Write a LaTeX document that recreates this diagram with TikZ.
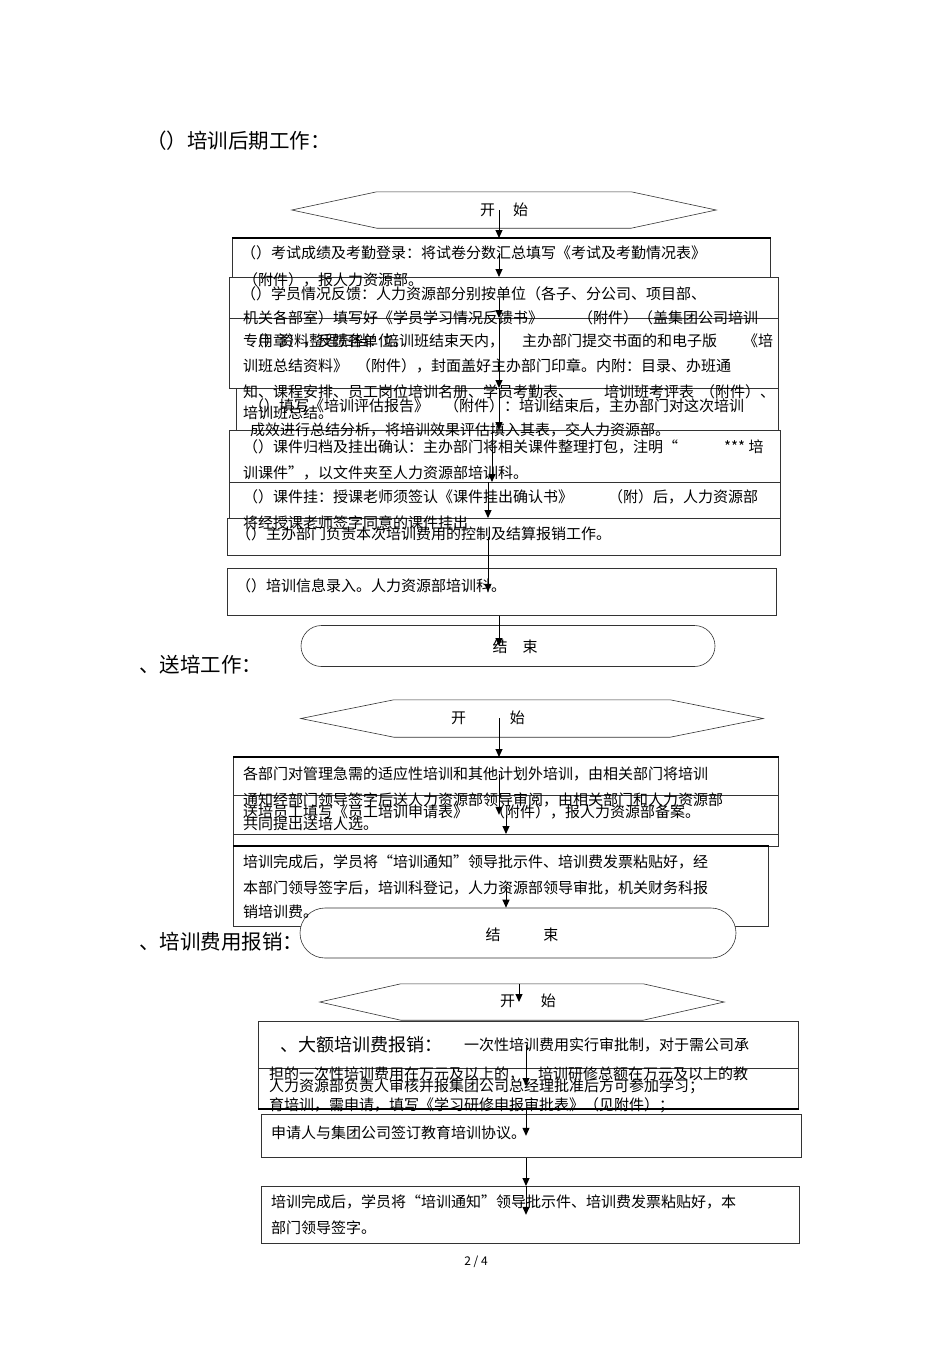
\documentclass[tikz,border=0pt]{standalone}
\usepackage{fontspec}
\setmainfont{Noto Sans CJK SC}
\usetikzlibrary{arrows.meta,shapes.misc}
\tikzset{
  pbox/.style  = {rectangle, draw=black!80, line width=0.6pt, inner sep=0pt, anchor=north west},
  hexbox/.style= {rectangle, inner sep=0pt, font=\fontsize{15pt}{17pt}\selectfont},
  endbox/.style= {rounded rectangle, draw=black!80, fill=white, line width=0.6pt, inner sep=0pt},
  hexln/.style = {draw=black!80, line width=0.6pt},
  ln/.style    = {anchor=west, inner sep=0pt, font=\fontsize{15pt}{17pt}\selectfont},
  lbl/.style   = {inner sep=0pt, font=\fontsize{15pt}{17pt}\selectfont},
  ttl/.style   = {anchor=west, inner sep=0pt, font=\fontsize{20.5pt}{23pt}\selectfont},
  thk/.style   = {line width=1.8pt},
  arr/.style   = {-{Triangle[length=8pt,width=7pt]}, line width=1pt},
}
\begin{document}
\begin{tikzpicture}[x=1pt,y=-1pt]
\useasboundingbox (0,0) rectangle (950,1345);
% columns of the arrows
\coordinate (k1) at (499,0);
\coordinate (k2) at (492,0);
\coordinate (k3) at (488,0);
\coordinate (k5) at (506,0);
\coordinate (k6) at (519,0);
\coordinate (k7) at (526,0);

% ---- part 1
\node[ttl] (t1) at (146,141) {（）培训后期工作：};
\node[hexbox, minimum width=424pt, minimum height=36pt] (hex1) at (504,210) {开\hspace{18pt}始};
\draw[hexln] (hex1.west) -- ([xshift=85pt]hex1.north west) -- ([xshift=-85pt]hex1.north east)
  -- (hex1.east) -- ([xshift=-85pt]hex1.south east) -- ([xshift=85pt]hex1.south west) -- cycle;
\node[pbox, minimum width=538pt, minimum height=39pt] (b1) at (232,238) {};
\draw[thk] (b1.north west) -- (b1.north east);
\node[pbox, minimum width=549pt, minimum height=41pt] (b2) at (229,277) {};
\node[pbox, minimum width=549pt, minimum height=70pt] (b3) at (229,318) {};
\node[pbox, minimum width=542pt, minimum height=42pt] (b4) at (236,388) {};
\node[pbox, minimum width=551pt, minimum height=52pt] (b5) at (229,430) {};
\node[pbox, minimum width=551pt, minimum height=36pt] (b6) at (229,482) {};
\node[pbox, minimum width=553pt, minimum height=37pt] (b7) at (227,518) {};
\node[pbox, minimum width=549pt, minimum height=47pt] (b8) at (227,568) {};
\node[endbox, minimum width=414pt, minimum height=41pt] (end1) at (508,646) {};
\node[lbl] (end1t) at (515,647) {结\hspace{15pt}束};

\node[ln] (b1t1) at (241,253) {（）考试成绩及考勤登录：将试卷分数汇总填写《考试及考勤情况表》};
\node[ln] (b1t2) at (243,280) {（附件），报人力资源部。};
\node[ln] (b2t1) at (241,294) {（）学员情况反馈：人力资源部分别按单位（各子、分公司、项目部、};
\node[ln] (b2t2) at (243,318) {机关各部室）填写好《学员学习情况反馈书》\hspace{35pt}（附件）（盖集团公司培训};
\node[ln] (b2t3) at (243,341) {专用章），反馈各单位。};
\node[ln] (b3t1) at (249,341) {（）资料整理归档：培训班结束天内，\hspace{18pt}主办部门提交书面的和电子版\hspace{26pt}《培};
\node[ln] (b3t2) at (243,366) {训班总结资料》\hspace{8pt}（附件），封面盖好主办部门印章。内附：目录、办班通};
\node[ln] (b3t3) at (243,392) {知、课程安排、员工岗位培训名册、学员考勤表、\hspace{31pt}培训班考评表\hspace{6pt}（附件）、};
\node[ln] (b3t4) at (243,413) {培训班总结。};
\node[ln] (b4t1) at (249,406) {（）填写《培训评估报告》\hspace{15pt}（附件）：培训结束后，主办部门对这次培训};
\node[ln] (b4t2) at (250,430) {成效进行总结分析，将培训效果评估填入其表，交人力资源部。};
\node[ln] (b5t1) at (243,447) {（）课件归档及挂出确认：主办部门将相关课件整理打包，注明“\hspace{46pt}*** 培};
\node[ln] (b5t2) at (243,473) {训课件”，以文件夹至人力资源部培训科。};
\node[ln] (b6t1) at (243,497) {（）课件挂：授课老师须签认《课件挂出确认书》\hspace{35pt}（附）后，人力资源部};
\node[ln] (b6t2) at (243,523) {将经授课老师签字同意的课件挂出};
\node[ln] (b7t1) at (236,534) {（）主办部门负责本次培训费用的控制及结算报销工作。};
\node[ln] (b8t1) at (236,586) {（）培训信息录入。人力资源部培训科。};

\draw[arr] (k1 |- hex1.center) -- (k1 |- b1.north);
\draw[arr] (k1 |- b1t1) -- (k1 |- b2.north);
\draw[arr] (k1 |- b2.center) -- (k1 |- b3.north);
\draw[arr] (k1 |- b3.north) -- (k1 |- b4.north);
\draw[arr] (k1 |- b4.north) -- (k1 |- b5.north);
\draw[arr] (k2 |- b5.north) -- (k2 |- b6.north);
\draw[arr] (k3 |- b6.north) -- (k3 |- b7.north);
\draw[arr] (k3 |- b7.center) -- (k3 |- b8.center);
\draw[arr] (k1 |- b8.south) -- (k1 |- end1.center);

% ---- part 2
\node[hexbox, minimum width=462pt, minimum height=37pt] (hex2) at (532,718.5) {};
\draw[hexln] (hex2.west) -- ([xshift=93pt]hex2.north west) -- ([xshift=-93pt]hex2.north east)
  -- (hex2.east) -- ([xshift=-93pt]hex2.south east) -- ([xshift=93pt]hex2.south west) -- cycle;
\node[lbl] (hex2t) at (488,718) {开\hspace{44pt}始};
\node[pbox, minimum width=545pt, minimum height=38pt] (s2a) at (233,757) {};
\draw[thk] (s2a.north west) -- (s2a.north east);
\node[pbox, minimum width=545pt, minimum height=39pt] (s2b) at (233,795) {};
\node[pbox, minimum width=545pt, minimum height=12pt] (s2c) at (233,834) {};
\node[pbox, minimum width=535pt, minimum height=80pt] (s2d) at (233,846) {};
\draw[thk] (s2d.north west) -- (s2d.north east);
\node[endbox, minimum width=436pt, minimum height=50pt] (end2) at (518,933) {};
\node[lbl] (end2t) at (522,935) {结\hspace{43pt}束};

\node[ln] (s2at1) at (243,774) {各部门对管理急需的适应性培训和其他计划外培训，由相关部门将培训};
\node[ln] (s2at2) at (243,800) {通知经部门领导签字后送人力资源部领导审阅，由相关部门和人力资源部};
\node[ln] (s2bt1) at (243,812) {送培员工填写《员工培训申请表》\hspace{22pt}（附件），报人力资源部备案。};
\node[ln] (s2at3) at (243,824) {共同提出送培人选。};
\node[ln] (s2dt1) at (243,862) {培训完成后，学员将“培训通知”领导批示件、培训费发票粘贴好，经};
\node[ln] (s2dt2) at (243,888) {本部门领导签字后，培训科登记，人力资源部领导审批，机关财务科报};
\node[ln] (s2dt3) at (243,912) {销培训费。};
\node[ttl] (t2) at (139,665) {、送培工作：};

\draw[arr] (k1 |- hex2t) -- (k1 |- s2a.north);
\draw[arr] (k1 |- s2at1) -- (k1 |- s2b.center);
\draw[arr] (k5 |- s2b.center) -- (k5 |- s2c.north);
\draw[arr] (k5 |- s2d.center) -- (k5 |- end2.north);

% ---- part 3
\node[ttl] (t3) at (139,942) {、培训费用报销：};
\node[hexbox, minimum width=404pt, minimum height=36pt] (hex3) at (522,1002) {};
\draw[hexln] (hex3.west) -- ([xshift=81pt]hex3.north west) -- ([xshift=-81pt]hex3.north east)
  -- (hex3.east) -- ([xshift=-81pt]hex3.south east) -- ([xshift=81pt]hex3.south west) -- cycle;
\node[lbl] (hex3t) at (528,1001) {开\hspace{26pt}始};
\node[pbox, fill=white, minimum width=540pt, minimum height=47pt] (s3a) at (258,1021) {};
\node[pbox, minimum width=540pt, minimum height=40pt] (s3b) at (258,1068) {};
\draw[thk] (s3b.south west) -- (s3b.south east);
\node[pbox, minimum width=540pt, minimum height=43pt] (s3c) at (261,1114) {};
\node[pbox, minimum width=538pt, minimum height=57pt] (s3d) at (261,1186) {};

\node[anchor=west, inner sep=0pt, font=\fontsize{18pt}{20pt}\selectfont] (s3at1) at (280,1045) {、大额培训费报销：};
\node[ln] (s3at2) at (464,1045) {一次性培训费用实行审批制，对于需公司承};
\node[ln] (s3bt1) at (269,1074) {担的一次性培训费用在万元及以上的，\hspace{14pt}培训研修总额在万元及以上的教};
\node[ln] (s3bt2) at (269,1086) {人力资源部负责人审核并报集团公司总经理批准后方可参加学习；};
\node[ln] (s3bt3) at (269,1105) {育培训，需申请，填写《学习研修申报审批表》（见附件）；};
\node[ln] (s3ct1) at (271,1133) {申请人与集团公司签订教育培训协议。};
\node[ln] (s3dt1) at (271,1202) {培训完成后，学员将“培训通知”领导批示件、培训费发票粘贴好，本};
\node[ln] (s3dt2) at (271,1228) {部门领导签字。};

\draw[arr] (k6 |- hex3.north) -- (k6 |- hex3.center);
\draw[arr] (k7 |- s3a.center) -- (k7 |- s3bt2);
\draw[arr] (k7 |- s3b.south) -- (k7 |- s3c.center);
\draw[arr] (k7 |- s3c.south) -- (k7 |- s3d.north);
\draw[arr] (k7 |- s3d.north) -- (k7 |- s3d.center);

\node[inner sep=0pt, font=\fontsize{12pt}{14pt}\selectfont] (pg) at (476,1262) {2 / 4};
\end{tikzpicture}
\end{document}
